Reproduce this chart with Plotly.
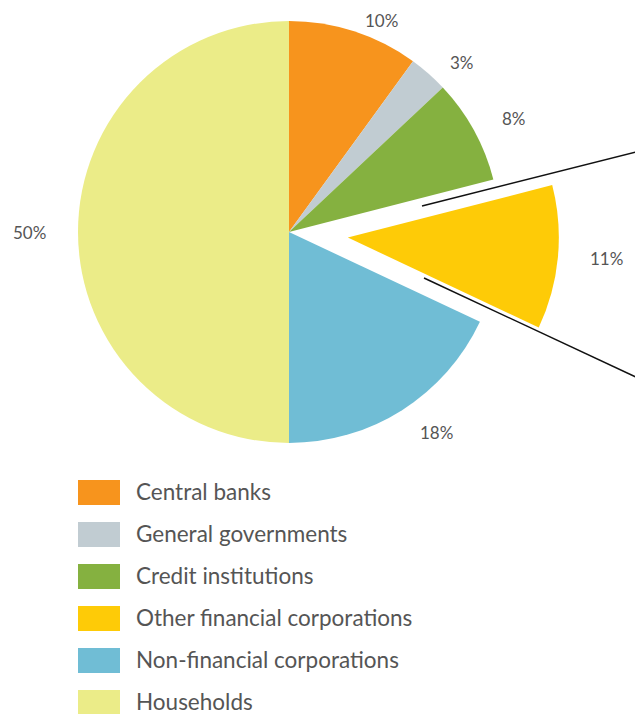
import math
import plotly.graph_objects as go

# ---- data ----
categories = ["Central banks", "General governments", "Credit institutions",
              "Other financial corporations", "Non-financial corporations", "Households"]
values = [10, 3, 8, 11, 18, 50]
colors = ["#F7941D", "#C1CCD2", "#85B140", "#FECB07", "#70BDD5", "#EBEC88"]
pulled = "Other financial corporations"
PULL = 0.28

# ---- layout constants (pixels) ----
W, H = 635, 714
CX, CY, R = 289, 232, 211
GAP_X = 30                  # horizontal label distance from the rim
GAP_Y_TOP, GAP_Y_BOTTOM = -2, 12
TEXT_COLOR = "#555555"
FONT = "Lato"
WEIGHT = 400

idx = categories.index(pulled)
total = float(sum(values))
cum = [sum(values[:i]) for i in range(len(values))]
mid = [2 * math.pi * (cum[i] + values[i] / 2) / total for i in range(len(values))]

# pull offset of the exploded slice (pixels, y downward)
pdx = PULL * R * math.sin(mid[idx])
pdy = -PULL * R * math.cos(mid[idx])


def dom(cx, cy):
    return dict(x=[(cx - R) / W, (cx + R) / W], y=[1 - (cy + R) / H, 1 - (cy - R) / H])


transparent = "rgba(0,0,0,0)"
colors_main = [transparent if c == pulled else col for c, col in zip(categories, colors)]
colors_pull = [col if c == pulled else transparent for c, col in zip(categories, colors)]

fig = go.Figure()
fig.add_trace(go.Pie(
    labels=categories, values=values, sort=False, direction="clockwise", rotation=0,
    marker=dict(colors=colors_main, line=dict(width=0)),
    textinfo="none", hoverinfo="label+percent", showlegend=False,
    domain=dom(CX, CY),
))
fig.add_trace(go.Pie(
    labels=categories, values=values, sort=False, direction="clockwise", rotation=0,
    marker=dict(colors=colors_pull, line=dict(width=0)),
    textinfo="none", hoverinfo="skip", showlegend=False,
    domain=dom(CX + pdx, CY + pdy),
))

annotations = []
LABEL_SIZE = 17
# slice percentage labels, placed outside the rim
for i, (c, v) in enumerate(zip(categories, values)):
    cx, cy = (CX + pdx, CY + pdy) if c == pulled else (CX, CY)
    s, co = math.sin(mid[i]), math.cos(mid[i])
    gy = GAP_Y_TOP if co > 0 else GAP_Y_BOTTOM
    px = cx + (R + GAP_X) * s
    py = cy - (R + gy) * co
    xa = "left" if s > 0.25 else ("right" if s < -0.25 else "center")
    ya = "bottom" if co > 0.25 else ("top" if co < -0.25 else "middle")
    annotations.append(dict(
        x=px / W, y=1 - py / H, xref="paper", yref="paper", text=f"{v}%",
        showarrow=False, xanchor=xa, yanchor=ya,
        font=dict(family=FONT, size=LABEL_SIZE, color=TEXT_COLOR, weight=WEIGHT)))

# legend with large swatches
shapes = []
LEG_X0, LEG_X1, LEG_Y0, LEG_H, LEG_STEP, LEG_TX = 78, 120, 480, 25, 42, 134
for i, (c, col) in enumerate(zip(categories, colors)):
    y0 = LEG_Y0 + i * LEG_STEP
    shapes.append(dict(type="rect", xref="paper", yref="paper",
                       x0=LEG_X0 / W, x1=LEG_X1 / W, y0=1 - (y0 + LEG_H) / H, y1=1 - y0 / H,
                       fillcolor=col, line=dict(width=0)))
    annotations.append(dict(
        x=LEG_TX / W, y=1 - (y0 + LEG_H / 2 - 1) / H, xref="paper", yref="paper", text=c,
        showarrow=False, xanchor="left", yanchor="middle",
        font=dict(family=FONT, size=22.5, color=TEXT_COLOR, weight=WEIGHT)))

# connector lines towards the (cropped) breakdown chart
for (x0, y0, x1, y1) in [(422, 206, 640, 151), (424, 278, 640, 379)]:
    shapes.append(dict(type="line", xref="paper", yref="paper",
                       x0=x0 / W, y0=1 - y0 / H, x1=x1 / W, y1=1 - y1 / H,
                       line=dict(color="#111111", width=1.5)))

fig.update_layout(
    width=W, height=H, margin=dict(l=0, r=0, t=0, b=0),
    paper_bgcolor="white", plot_bgcolor="white",
    annotations=annotations, shapes=shapes, showlegend=False,
    font=dict(family=FONT, color=TEXT_COLOR),
)

fig.write_html("out.html", config={"displayModeBar": False},
               post_script="document.body.style.margin='0';")
